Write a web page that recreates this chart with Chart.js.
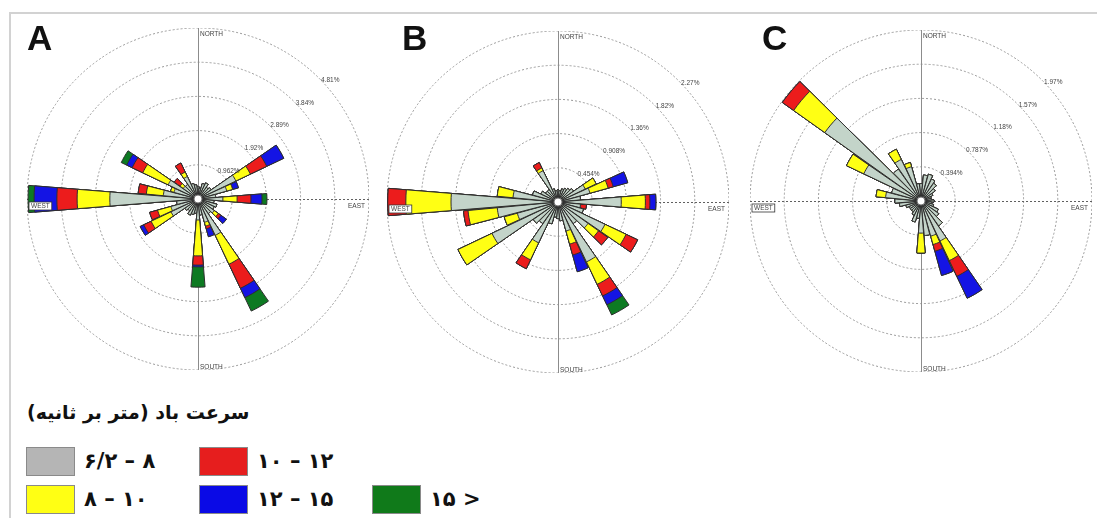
<!DOCTYPE html>
<html>
<head>
<meta charset="utf-8">
<script src="https://cdn.jsdelivr.net/npm/chart.js@4.4.0/dist/chart.umd.min.js"></script>
<style>
html, body { margin: 0; padding: 0; background: #fff; }
#page { position: relative; width: 1097px; height: 518px; overflow: hidden; font-family: "Liberation Sans", Arial, sans-serif; }
.frame { position: absolute; left: 9px; top: 12px; right: -2px; bottom: -2px; border-left: 2px solid #d2d2d2; border-top: 2px solid #d2d2d2; }
.rose { position: absolute; }
.letter { position: absolute; font-weight: bold; font-size: 35px; line-height: 35px; color: #111; }
.legtitle { position: absolute; left: 27px; top: 401px; font-family: "DejaVu Sans", sans-serif; font-weight: bold; font-size: 19px; color: #111; white-space: nowrap; }
.sw { position: absolute; width: 47px; height: 27px; border: 1px solid #8a8a8a; }
.lt { position: absolute; font-family: "DejaVu Sans", sans-serif; font-weight: bold; font-size: 21px; line-height: 28px; color: #111; white-space: nowrap; }
</style>
</head>
<body>
<div id="page">
  <div class="frame"></div>
  <canvas id="roseA" class="rose" width="342" height="342" style="left:27px;top:28px"></canvas>
  <canvas id="roseB" class="rose" width="342" height="342" style="left:387px;top:31px"></canvas>
  <canvas id="roseC" class="rose" width="342" height="342" style="left:750px;top:30px"></canvas>
  <div class="letter" style="left:27px;top:20px">A</div>
  <div class="letter" style="left:402px;top:20px">B</div>
  <div class="letter" style="left:762px;top:20px">C</div>
  <div id="legend"></div>
</div>
<script>
// wind directions (deg from north), one petal per 10 degrees
var directions = [0, 10, 20, 30, 40, 50, 60, 70, 80, 90, 100, 110, 120, 130, 140, 150, 160, 170,
                  180, 190, 200, 210, 220, 230, 240, 250, 260, 270, 280, 290, 300, 310, 320, 330, 340, 350];

// speed classes (m/s) and colours
var speedClasses = ['۶/۲ – ۸', '۸ – ۱۰', '۱۰ – ۱۲', '۱۲ – ۱۵', '۱۵ >'];
var classColors = ['#c3d4c9', '#ffff14', '#ec1c1c', '#1414e4', '#0d7a22'];
var legendColors = ['#b5b5b5', '#ffff14', '#e61e1e', '#0a0ae6', '#107a1a'];

// frequency (%) per direction, station A
var freqA_1 = [0.35,0.30,0.45,0.50,0.40,0.45,1.18,0.84,0.50,0.70,0.45,0.55,0.50,0.56,0.50,1.13,0.68,0.45,
               0.59,0.40,0.45,0.50,0.40,0.45,0.84,0.79,0.60,2.48,0.98,0.70,0.93,0.51,0.50,0.70,0.45,0.40];
var freqA_2 = [0,0,0,0,0,0,0.45,0.17,0,0.40,0,0,0,0.14,0,0.90,0.11,0,
               1.01,0,0,0,0,0,0.62,0.39,0,0.92,0.48,0.10,0.79,0.11,0,0.14,0,0];
var freqA_3 = [0,0,0,0,0,0,0.51,0,0,0.39,0,0,0,0.09,0,0.75,0.08,0,
               0.26,0,0,0,0,0,0.23,0.23,0,0.57,0.23,0,0.33,0.20,0,0.28,0,0];
var freqA_4 = [0,0,0,0,0,0,0.53,0.17,0,0.31,0,0,0,0.19,0,0.29,0.23,0,
               0.05,0,0,0,0,0,0.11,0,0,0.64,0,0,0.17,0,0,0,0,0];
var freqA_5 = [0,0,0,0,0,0,0,0,0,0.14,0,0,0,0,0,0.42,0,0,
               0.57,0,0,0,0,0,0,0,0,0.17,0,0,0.17,0,0,0,0,0];

// station B
var freqB_1 = [0.16,0.15,0.18,0.20,0.22,0.25,0.40,0.44,0.30,0.84,0.30,0.35,0.69,0.49,0.35,0.88,0.40,0.25,
               0.22,0.20,0.30,0.60,0.35,0.40,0.97,0.56,0.81,1.42,0.60,0.35,0.25,0.20,0.20,0.46,0.18,0.15];
var freqB_2 = [0,0,0,0,0,0,0.16,0.25,0,0.32,0,0,0.31,0.17,0,0.33,0.18,0,
               0,0,0,0.25,0,0,0.50,0.18,0.39,0.60,0.21,0,0,0,0,0.04,0,0];
var freqB_3 = [0,0,0,0,0,0,0,0.07,0,0.06,0.08,0,0.17,0.15,0,0.17,0.15,0,
               0,0,0,0.13,0,0,0,0,0.06,0.24,0,0,0,0,0,0.08,0,0];
var freqB_4 = [0,0,0,0,0,0,0,0.20,0,0.08,0,0,0,0,0,0.13,0.23,0,
               0,0,0,0,0,0,0,0,0,0,0,0,0,0,0,0,0,0];
var freqB_5 = [0,0,0,0,0,0,0,0,0,0,0,0,0,0,0,0.15,0,0,
               0,0,0,0,0,0,0,0,0,0,0,0,0,0,0,0,0,0];

// station C
var freqC_1 = [0.20,0.30,0.32,0.28,0.25,0.20,0.15,0.12,0.12,0.15,0.12,0.15,0.22,0.25,0.35,0.51,0.42,0.40,
               0.37,0.20,0.25,0.18,0.15,0.15,0.15,0.18,0.25,0.30,0.41,0.35,0.73,1.36,0.45,0.53,0.41,0.20];
var freqC_2 = [0,0,0,0,0,0,0,0,0,0,0,0,0,0,0,0.25,0.10,0,
               0.23,0,0,0,0,0,0,0,0,0,0.11,0,0.22,0.44,0,0.13,0.05,0];
var freqC_3 = [0,0,0,0,0,0,0,0,0,0,0,0,0,0,0,0.20,0.08,0,
               0,0,0,0,0,0,0,0,0,0,0,0,0,0.16,0,0,0,0];
var freqC_4 = [0,0,0,0,0,0,0,0,0,0,0,0,0,0,0,0.28,0.29,0,
               0,0,0,0,0,0,0,0,0,0,0,0,0,0,0,0,0,0];
var freqC_5 = [0,0,0,0,0,0,0,0,0,0,0,0,0,0,0,0,0,0,
               0,0,0,0,0,0,0,0,0,0,0,0,0,0,0,0,0,0];

// ring tick labels and outer ring value per station
var ringLabelsA = ['0.962%', '1.92%', '2.89%', '3.84%', '4.81%'];
var ringLabelsB = ['0.454%', '0.908%', '1.36%', '1.82%', '2.27%'];
var ringLabelsC = ['0.394%', '0.787%', '1.18%', '1.57%', '1.97%'];
var ringMaxA = 4.81, ringMaxB = 2.27, ringMaxC = 1.97;

var petalAngle = 9.2, gapAngle = 0.8;

// decorations: axes, compass words, ring labels, calm circle
var roseDecor = {
    id: 'roseDecor',
    beforeDatasetsDraw: function(chart) {
        var s = chart.scales.r, ctx = chart.ctx;
        var cx = s.xCenter, cy = s.yCenter, r = s.drawingArea;
        ctx.save();
        ctx.lineWidth = 1;
        ctx.strokeStyle = '#8c8c8c';
        ctx.beginPath(); ctx.moveTo(cx + 0.5, cy - r); ctx.lineTo(cx + 0.5, cy + r); ctx.stroke();
        ctx.setLineDash([2, 2]);
        ctx.strokeStyle = '#606060';
        ctx.beginPath(); ctx.moveTo(cx - r, cy + 0.5); ctx.lineTo(cx + r, cy + 0.5); ctx.stroke();
        ctx.restore();
    },
    afterDatasetsDraw: function(chart, args, opts) {
        var s = chart.scales.r, ctx = chart.ctx;
        var cx = s.xCenter, cy = s.yCenter, r = s.drawingArea;
        ctx.save();
        ctx.font = '6.5px "Liberation Sans", Arial, sans-serif';
        ctx.fillStyle = '#444';
        ctx.textBaseline = 'middle';
        ctx.textAlign = 'center';
        var a = 48 * Math.PI / 180;
        s.ticks.forEach(function(t, i) {
            if (i === 0) return;
            var d = s.getDistanceFromCenterForValue(t.value) + 7;
            ctx.fillText(opts.ringLabels[i - 1], cx + d * Math.sin(a), cy - d * Math.cos(a));
        });
        ctx.textAlign = 'left';
        ctx.fillText('NORTH', cx + 2, cy - r + 6);
        ctx.fillText('SOUTH', cx + 2, cy + r - 3);
        ctx.textAlign = 'right';
        ctx.fillText('EAST', cx + r - 4, cy + 7);
        // west label sits in a small white box
        ctx.textAlign = 'left';
        var w = ctx.measureText('WEST').width;
        ctx.fillStyle = '#fff';
        ctx.fillRect(cx - r + 2, cy + 3, w + 4, 8);
        ctx.strokeStyle = '#333';
        ctx.lineWidth = 0.8;
        ctx.strokeRect(cx - r + 2, cy + 3, w + 4, 8);
        ctx.fillStyle = '#444';
        ctx.fillText('WEST', cx - r + 4, cy + 7);
        // calm circle
        ctx.beginPath();
        ctx.arc(cx, cy, 4, 0, Math.PI * 2);
        ctx.fillStyle = '#fff';
        ctx.fill();
        ctx.strokeStyle = '#777';
        ctx.lineWidth = 1;
        ctx.stroke();
        ctx.restore();
    }
};

function makeRose(id, classes, ringMax, ringLabels) {
    // stacked petals: cumulative wedges, smallest on top
    var labels = [];
    directions.forEach(function(d) { labels.push(d + '°', ''); });
    var running = directions.map(function() { return 0; });
    var datasets = classes.map(function(vals, k) {
        var data = [];
        vals.forEach(function(v, i) {
            running[i] += v;
            data.push(running[i], 0);
        });
        return {
            label: speedClasses[k],
            data: data,
            backgroundColor: classColors[k],
            borderColor: '#2e2e2e',
            borderWidth: function(c) { return c.dataIndex % 2 === 0 ? 1 : 0; },
            angle: function(c) { return c.dataIndex % 2 === 0 ? petalAngle : gapAngle; }
        };
    });
    return new Chart(document.getElementById(id), {
        type: 'polarArea',
        data: { labels: labels, datasets: datasets },
        options: {
            responsive: false,
            animation: false,
            layout: { padding: 0 },
            plugins: {
                legend: { display: false },
                tooltip: { enabled: false },
                roseDecor: { ringLabels: ringLabels }
            },
            scales: {
                r: {
                    min: 0,
                    max: ringMax,
                    startAngle: -petalAngle / 2,
                    ticks: { display: false, stepSize: ringMax / 5 },
                    grid: { circular: true, color: '#9a9a9a', lineWidth: 1 },
                    border: { dash: [2, 2] },
                    angleLines: { display: false },
                    pointLabels: { display: false }
                }
            }
        },
        plugins: [roseDecor]
    });
}

makeRose('roseA', [freqA_1, freqA_2, freqA_3, freqA_4, freqA_5], ringMaxA, ringLabelsA);
makeRose('roseB', [freqB_1, freqB_2, freqB_3, freqB_4, freqB_5], ringMaxB, ringLabelsB);
makeRose('roseC', [freqC_1, freqC_2, freqC_3, freqC_4, freqC_5], ringMaxC, ringLabelsC);

// figure legend (Persian)
var legendPos = [[26, 447], [26, 485], [199, 447], [199, 485], [372, 485]];
var leg = document.getElementById('legend');
var html = '<div class="legtitle" dir="rtl">سرعت باد (متر بر ثانیه)</div>';
speedClasses.forEach(function(txt, k) {
    var p = legendPos[k];
    html += '<div class="sw" style="left:' + p[0] + 'px;top:' + p[1] + 'px;background:' + legendColors[k] + '"></div>';
    html += '<div class="lt" dir="ltr" style="left:' + (p[0] + 58) + 'px;top:' + p[1] + 'px">' + txt + '</div>';
});
leg.innerHTML = html;
</script>
</body>
</html>
